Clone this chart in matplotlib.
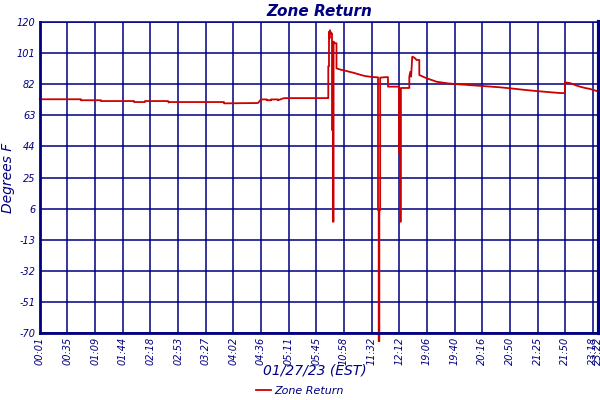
import matplotlib
matplotlib.use("Agg")
import matplotlib.pyplot as plt

# x positions are in tick-index units (0 = first tick label, 1 = next tick, ...)
x_pos = [0.000, 1.490, 1.490, 2.213, 2.213, 3.407, 3.407, 3.805, 3.805, 4.637, 4.660, 4.690,
         6.662, 6.662, 7.892, 8.000, 8.217, 8.217, 8.362, 8.362, 8.615, 8.615, 8.796, 8.868,
         10.398, 10.434, 10.434, 10.459, 10.459, 10.480, 10.495, 10.532, 10.568, 10.568,
         10.600, 10.600, 10.625, 10.625, 10.676, 10.730, 10.730, 10.857, 11.038, 11.219,
         11.364, 11.581, 11.762, 12.015, 12.232, 12.232, 12.257, 12.257, 12.280, 12.280,
         12.310, 12.310, 12.500, 12.593, 12.593, 12.990, 12.990, 13.027, 13.027, 13.060,
         13.060, 13.364, 13.364, 13.400, 13.430, 13.470, 13.550, 13.630, 13.725, 13.725,
         13.993, 14.354, 14.763, 15.016, 15.920, 16.643, 17.005, 17.548, 17.982, 18.380,
         18.814, 18.995, 18.995, 19.040, 19.176, 19.357, 19.537, 19.718, 19.899, 20.152]
temps = [72.8, 72.8, 72.2, 72.2, 71.7, 71.7, 71.1, 71.1, 71.7, 71.7, 70.8, 71.1,
         71.1, 70.3, 70.5, 72.7, 72.7, 72.2, 72.2, 72.7, 72.7, 72.2, 73.3, 73.5,
         73.5, 73.5, 93.0, 93.0, 114.0, 110.0, 115.0, 113.0, 113.0, 54.0,
         54.0, -2.0, -2.0, 108.0, 107.0, 107.0, 91.7, 91.0, 90.3, 89.5,
         88.9, 87.8, 87.0, 86.4, 86.2, 5.2, 5.2, -75.0, -75.0, 5.2,
         5.2, 86.0, 86.3, 86.3, 80.5, 80.5, 40.0, 40.0, -2.0, -2.0,
         79.7, 79.7, 86.6, 89.6, 86.6, 98.8, 98.2, 96.8, 96.8, 87.6,
         85.6, 83.5, 82.5, 82.1, 81.0, 80.1, 79.5, 78.5, 77.8, 77.2,
         76.6, 76.6, 83.3, 83.0, 82.7, 81.5, 80.5, 79.7, 79.1, 77.8]

tick_pos = list(range(21)) + [20.2]
tick_labels = ["00:01", "00:35", "01:09", "01:44", "02:18", "02:53", "03:27", "04:02",
               "04:36", "05:11", "05:45", "10:58", "11:32", "12:12", "19:06", "19:40",
               "20:16", "20:50", "21:25", "21:50", "23:18", "23:22"]
y_ticks = [-70, -51, -32, -13, 6, 25, 44, 63, 82, 101, 120]

navy = "#000080"
red = "#cc0000"

fig = plt.figure(figsize=(6, 4), dpi=100)
ax = fig.add_axes([0.0663, 0.1675, 0.9312, 0.7775])
ax.plot(x_pos, temps, color=red, linewidth=1.3, label="Zone Return", clip_on=False)
ax.set_xlim(0, 20.206)
ax.set_ylim(-70, 120)

ax.set_xticks(tick_pos)
ax.set_xticklabels(tick_labels, rotation=90, fontsize=7, style="italic", color=navy)
ax.set_yticks(y_ticks)
ax.set_yticklabels([str(v) for v in y_ticks], fontsize=7, style="italic", color=navy)
ax.tick_params(axis="both", length=0, pad=3)
ax.grid(True, color=navy, linewidth=1.1)
ax.set_axisbelow(True)
for side, lw in [("left", 2.0), ("bottom", 2.0), ("right", 3.0), ("top", 1.1)]:
    ax.spines[side].set_color(navy)
    ax.spines[side].set_linewidth(lw)

ax.set_title("Zone Return", fontsize=11, style="italic", weight="bold", color=navy, pad=4)
fig.text(8 / 600, 1 - 178 / 400, "Degrees F", rotation=90, ha="center", va="center",
         fontsize=10, style="italic", color=navy)
fig.text(315 / 600, 1 - 370 / 400, "01/27/23 (EST)", ha="center", va="center",
         fontsize=10, style="italic", color=navy)
leg = fig.legend(loc="center", bbox_to_anchor=(300 / 600, 1 - 391 / 400), frameon=False,
                 fontsize=8, handlelength=1.3, handletextpad=0.3, borderpad=0)
for t in leg.get_texts():
    t.set_color(navy)
    t.set_style("italic")

fig.savefig("out.png", dpi=100)
